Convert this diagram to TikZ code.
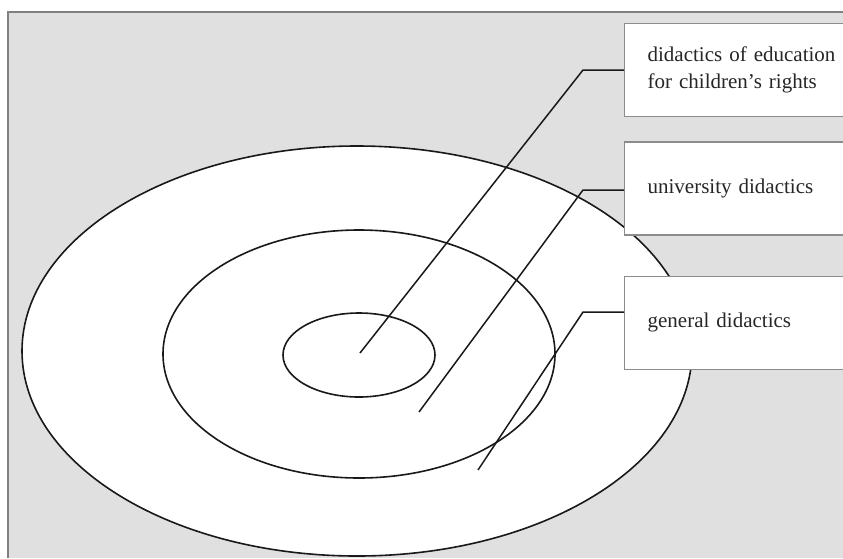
\documentclass[tikz,border=0pt]{standalone}
\usepackage{fontspec}
\setmainfont{Liberation Serif}
\usetikzlibrary{positioning}

\begin{document}
\begin{tikzpicture}[x=1pt, y=-1pt, node distance=24pt,
  ring/.style={draw=black!90, fill=white, line width=1.6pt},
  labelbox/.style={draw=black!45, fill=white, line width=1.3pt,
    minimum height=93pt, text width=200pt, inner xsep=23pt,
    align=left, text=black!85, font=\fontsize{21}{27}\selectfont},
  leader/.style={draw=black!90, line width=1.5pt}]
  \useasboundingbox (0,0) rectangle (843,558);
  \clip (0,0) rectangle (843,558);

  % panel
  \fill[black!12] (8,12) rectangle (843,558);
  \draw[black!50, line width=1.5pt] (8,558) -- (8,12) -- (843,12);

  % rings
  \draw[ring] (357,351) ellipse [x radius=335, y radius=205];
  \draw[ring] (359,354) ellipse [x radius=196, y radius=124];
  \draw[ring] (359,355) ellipse [x radius=76, y radius=42];

  % label boxes
  \node[labelbox, anchor=north west] (rights) at (624,23)
    {didactics of education\\for children’s rights};
  \node[labelbox] (univ) [below=24pt of rights] {university didactics};
  \node[labelbox] (general) [below=40pt of univ] {general didactics};

  % leaders
  \coordinate (t1) at (360,353);
  \coordinate (k1) at (583,70);
  \coordinate (t2) at (419,412);
  \coordinate (k2) at (583,190);
  \coordinate (t3) at (478,470);
  \coordinate (k3) at (583,312);
  \draw[leader] (t1) -- (k1) -- (k1 -| rights.west);
  \draw[leader] (t2) -- (k2) -- (k2 -| univ.west);
  \draw[leader] (t3) -- (k3) -- (k3 -| general.west);
\end{tikzpicture}
\end{document}
